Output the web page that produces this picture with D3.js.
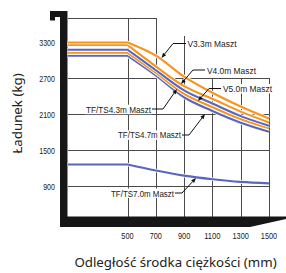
<!DOCTYPE html>
<html><head><meta charset="utf-8">
<script src="https://cdn.jsdelivr.net/npm/d3@7"></script>
<style>html,body{margin:0;padding:0;background:#fff;} svg{display:block}</style>
</head><body>
<svg id="c" width="286" height="273"></svg>
<script>
// ---- data ----
const distances = [500, 700, 900, 1100, 1300, 1500];
const xTickLabels = ["500", "700", "900", "1100", "1300", "1500"];
const yTickValues = [3300, 2700, 2100, 1500, 900];
const seriesNames = ["V3.3m Maszt", "V4.0m Maszt", "TF/TS4.3m Maszt", "V5.0m Maszt", "TF/TS4.7m Maszt", "TF/TS7.0m Maszt"];
const v33 = [3290, 3070, 2720, 2450, 2220, 2020];
const v40 = [3250, 2890, 2560, 2350, 2135, 1955];
const tf43 = [3170, 2830, 2490, 2270, 2060, 1900];
const v50 = [3120, 2785, 2430, 2210, 2010, 1855];
const tf47 = [3070, 2740, 2375, 2145, 1950, 1800];
const tf70 = [1250, 1150, 1065, 1005, 960, 935];
const xTitle = "Odległość środka ciężkości (mm)";
const yTitle = "Ładunek (kg)";

// ---- layout ----
const ORANGE = "#F7941D", BLUE = "#5966BE";
const plotLeft = 67.5, plotBottom = 216.5;
const svg = d3.select("#c");
const x = d3.scaleLinear().domain([500, 1500]).range([127.5, 269]);
const y = d3.scaleLinear().domain([900, 3700]).range([185.5, 18]);
const xStart = x.invert(plotLeft);

// stepped grid (value based)
const vGrid = [[500, 3700], [700, 3700], [900, 3400], [1100, 2700], [1300, 2700], [1500, 2700]];
const hGrid = [[3700, 700], [2700, 1500], [2100, 1500], [1500, 1500], [900, 1500]];
const grid = svg.append("g").attr("stroke", "#4a4a4a").attr("stroke-width", 1).attr("shape-rendering", "crispEdges");
vGrid.forEach(([d, top]) => grid.append("line")
  .attr("x1", Math.round(x(d)) + 0.5).attr("x2", Math.round(x(d)) + 0.5)
  .attr("y1", y(top)).attr("y2", plotBottom));
hGrid.forEach(([v, right]) => grid.append("line")
  .attr("x1", plotLeft).attr("x2", x(right) + 0.5)
  .attr("y1", Math.round(y(v)) + 0.5).attr("y2", Math.round(y(v)) + 0.5));

// frame
svg.append("path").attr("fill", "#161616")
  .attr("d", "M50,11 H67.5 V216.5 H286 V219 L250,227 H60 V17 H55 V20.5 H50 Z");

// curves
const series = [
  { name: seriesNames[4], values: tf47, color: BLUE },
  { name: seriesNames[3], values: v50, color: ORANGE },
  { name: seriesNames[2], values: tf43, color: BLUE },
  { name: seriesNames[1], values: v40, color: ORANGE },
  { name: seriesNames[0], values: v33, color: ORANGE },
  { name: seriesNames[5], values: tf70, color: BLUE }
];
const curve = d3.line().x(d => x(d[0])).y(d => y(d[1])).curve(d3.curveMonotoneX);
function pathFor(vals) {
  const pts = distances.map((d, i) => [d, vals[i]]);
  return "M" + x(xStart) + "," + y(vals[0]) + curve(pts).replace(/^M/, "L");
}
const cg = svg.append("g").attr("fill", "none");
series.forEach(s => {
  cg.append("path").attr("d", pathFor(s.values)).attr("stroke", "#fff").attr("stroke-width", 3.6);
  cg.append("path").attr("d", pathFor(s.values)).attr("stroke", s.color).attr("stroke-width", 2.1);
});

// ticks
const tickFont = "'Liberation Sans Narrow','Arial Narrow','Liberation Sans',sans-serif";
svg.append("g").selectAll("text").data(yTickValues).join("text")
  .attr("x", 55).attr("y", d => y(d) + 4.3).attr("text-anchor", "end")
  .attr("font-family", tickFont).attr("font-size", 9).attr("fill", "#222")
  .attr("textLength", d => String(d).length * 3.95).attr("lengthAdjust", "spacingAndGlyphs")
  .text(d => d);
svg.append("g").selectAll("text").data(distances).join("text")
  .attr("x", d => x(d)).attr("y", 238.5).attr("text-anchor", "middle")
  .attr("font-family", tickFont).attr("font-size", 9).attr("fill", "#222")
  .attr("textLength", (d, i) => xTickLabels[i].length * 4.1).attr("lengthAdjust", "spacingAndGlyphs")
  .text((d, i) => xTickLabels[i]);

// titles
const titleFont = "'Noto Sans','Open Sans',sans-serif";
svg.append("text").attr("x", 175.5).attr("y", 267).attr("text-anchor", "middle")
  .attr("font-family", titleFont).attr("font-size", 13.3).attr("fill", "#222").text(xTitle);
svg.append("text").attr("transform", "translate(21.8,113.5) rotate(-90)").attr("text-anchor", "middle")
  .attr("font-family", titleFont).attr("font-size", 13.3).attr("fill", "#222").text(yTitle);

// annotations: [name, textX, baseline, width, corner, tip]
const notes = [
  [seriesNames[0], 187.5, 47, 49, [186, 43.5], [173, 43.5], [161.5, 58]],
  [seriesNames[1], 207, 73.5, 49, [205, 70], [193, 70], [181, 84]],
  [seriesNames[3], 223, 92, 49, [221, 88.5], [209, 88.5], [198, 101]],
  [seriesNames[2], 86, 112.7, 65, [152, 109], [163, 109], [177, 89]],
  [seriesNames[4], 118, 138.3, 63, [182, 135], [189, 135], [205, 114]],
  [seriesNames[5], 111, 196.5, 63, [175, 193], [182, 193], [196, 178]]
];
const ng = svg.append("g");
notes.forEach(([name, tx, ty, w, a, b, tip]) => {
  ng.append("rect").attr("x", tx - 1).attr("y", ty - 8).attr("width", w + 2).attr("height", 9.5).attr("fill", "#fff");
  ng.append("text").attr("x", tx).attr("y", ty).attr("font-family", tickFont).attr("font-size", 9.6)
    .attr("fill", "#222").attr("textLength", w).attr("lengthAdjust", "spacingAndGlyphs").text(name);
  const dx = tip[0] - b[0], dy = tip[1] - b[1], L = Math.hypot(dx, dy), ux = dx / L, uy = dy / L;
  const bx = tip[0] - ux * 5, by = tip[1] - uy * 5;
  ng.append("polyline").attr("points", [a, b, [bx, by]].map(p => p.join(",")).join(" "))
    .attr("fill", "none").attr("stroke", "#111").attr("stroke-width", 1);
  ng.append("path").attr("fill", "#111")
    .attr("d", `M${tip[0]},${tip[1]} L${bx - uy * 2},${by + ux * 2} L${bx + uy * 2},${by - ux * 2} Z`);
});
</script>
</body></html>
